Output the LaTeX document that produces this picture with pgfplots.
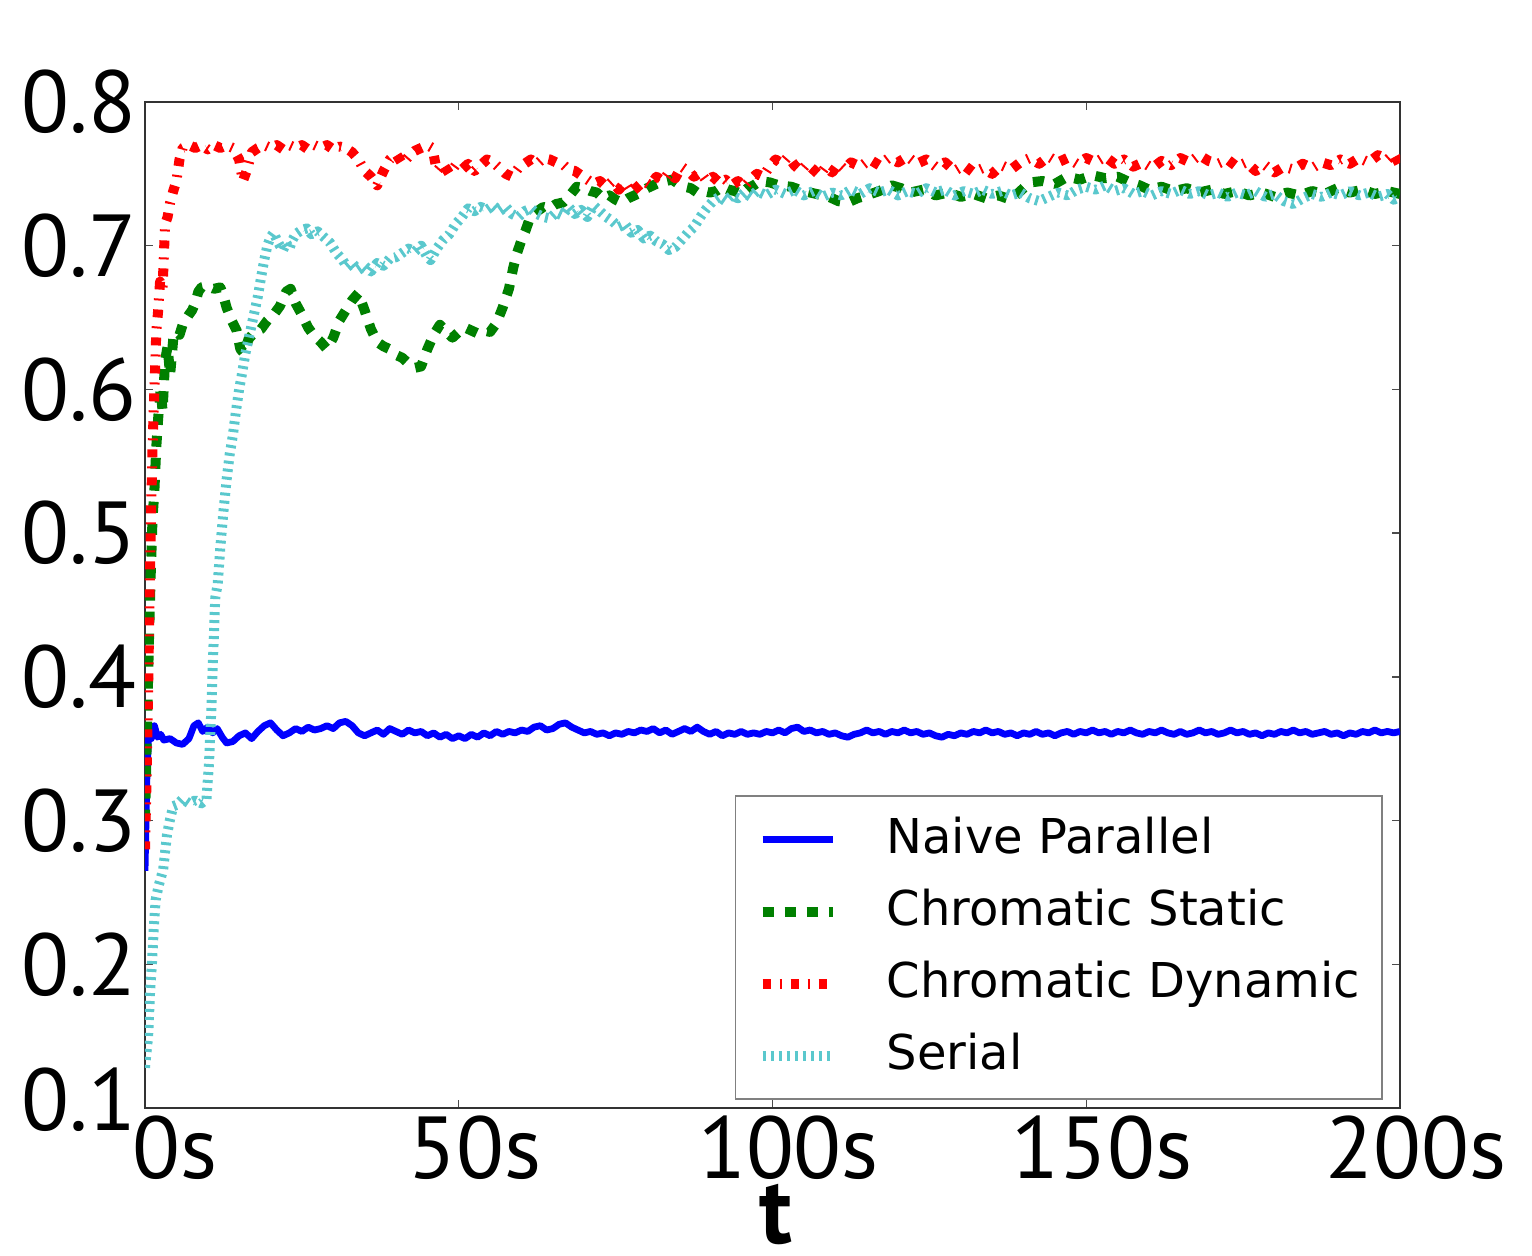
\documentclass[border=0pt]{standalone}
\usepackage{fontspec}
\setmainfont{PT Sans}
\newfontfamily\dejavu{DejaVu Sans}
\usepackage{pgfplots}
\pgfplotsset{compat=1.18}
\definecolor{mblue}{rgb}{0,0,1}
\definecolor{mgreen}{rgb}{0,0.5,0}
\definecolor{mred}{rgb}{1,0,0}
\definecolor{mcyan}{RGB}{90,200,205}
\begin{document}
\begin{tikzpicture}
\begin{axis}[
  at={(72.5pt,74pt)}, anchor=south west,
  scale only axis, width=627.5pt, height=503pt,
  xmin=0, xmax=200, ymin=0.1, ymax=0.8,
  xtick={0,50,100,150,200},
  xticklabels={\hspace*{14pt}0s,50s,100s,150s,200s},
  ytick={0.1,0.2,0.3,0.4,0.5,0.6,0.7,0.8},
  yticklabels={\raisebox{8.5pt}{0.1},0.2,0.3,0.4,0.5,0.6,0.7,0.8},
  tick label style={font=\fontsize{44}{44}\selectfont},
  xticklabel style={anchor=north, inner sep=0pt, yshift=-3.5pt, xshift=8pt},
  yticklabel style={anchor=east, inner sep=0pt, xshift=-4pt},
  tick align=inside, major tick length=4pt,
  tick style={line width=0.7pt, color=black!70},
  axis line style={line width=1pt, color=black!80},
  xlabel={\fontsize{47}{47}\selectfont\bfseries t},
  xlabel style={at={(axis description cs:0.5,0)}, anchor=north, inner sep=0pt, yshift=-38pt, xshift=1.5pt},
  legend cell align=left,
  legend style={at={(0.9865,0.008)}, anchor=south east, draw=black!50, line width=0.8pt,
    font=\dejavu\fontsize{24}{24}\selectfont, inner xsep=11pt, inner ysep=9.75pt,
    row sep=12pt, column sep=24.5pt,
    nodes={inner sep=0pt, text height=19pt, text depth=5pt}},
  legend image code/.code={\draw[#1] (0pt,0pt) -- (35pt,0pt);},
]
\addplot[mblue, line width=3.4pt, line join=round] coordinates {
(0,0.265)(0.3,0.33)(0.6,0.362)(1,0.357)(1.5,0.366)(2,0.358)(2.5,0.360)(3,0.356)(4,0.357)(5,0.354)(6,0.353)(7,0.357)(7.8,0.366)(8.5,0.368)(9.2,0.362)(10,0.365)(10.8,0.361)(11.5,0.364)(12.3,0.358)(13,0.354)(14,0.355)(15,0.359)(16,0.361)(17,0.357)(18,0.362)(19,0.366)(20,0.368)(21,0.363)(22,0.359)(23,0.361)(24,0.364)(25,0.362)(26,0.365)(27,0.363)(28,0.364)(29,0.366)(30,0.364)(31,0.368)(32,0.369)(33,0.366)(34,0.361)(35,0.359)(36,0.361)(37,0.363)(38,0.360)(39,0.364)(40,0.362)(41,0.360)(42,0.363)(43,0.361)(44,0.362)(45,0.359)(46,0.361)(47,0.358)(48,0.360)(49,0.357)(50,0.359)(51,0.357)(52,0.360)(53,0.358)(54,0.361)(55,0.359)(56,0.362)(57,0.360)(58,0.362)(59,0.361)(60,0.363)(61,0.362)(62,0.365)(63,0.366)(64,0.363)(65,0.364)(66,0.367)(67,0.368)(68,0.365)(69,0.363)(70,0.361)(71,0.362)(72,0.360)(73,0.361)(74,0.359)(75,0.361)(76,0.360)(77,0.362)(78,0.361)(79,0.363)(80,0.362)(81,0.364)(82,0.361)(83,0.363)(84,0.360)(85,0.362)(86,0.364)(87,0.362)(88,0.365)(89,0.362)(90,0.360)(91,0.362)(92,0.359)(93,0.361)(94,0.360)(95,0.362)(96,0.360)(97,0.361)(98,0.360)(99,0.362)(100,0.361)(101,0.363)(102,0.361)(103,0.364)(104,0.365)(105,0.362)(106,0.363)(107,0.361)(108,0.362)(109,0.360)(110,0.361)(111,0.359)(112,0.358)(113,0.360)(114,0.361)(115,0.363)(116,0.361)(117,0.362)(118,0.360)(119,0.362)(120,0.361)(121,0.363)(122,0.361)(123,0.362)(124,0.360)(125,0.361)(126,0.359)(127,0.358)(128,0.360)(129,0.359)(130,0.361)(131,0.360)(132,0.362)(133,0.361)(134,0.363)(135,0.361)(136,0.362)(137,0.360)(138,0.361)(139,0.359)(140,0.361)(141,0.360)(142,0.362)(143,0.360)(144,0.361)(145,0.359)(146,0.361)(147,0.362)(148,0.360)(149,0.362)(150,0.361)(151,0.363)(152,0.361)(153,0.362)(154,0.360)(155,0.362)(156,0.361)(157,0.363)(158,0.361)(159,0.360)(160,0.362)(161,0.361)(162,0.363)(163,0.361)(164,0.360)(165,0.362)(166,0.360)(167,0.361)(168,0.363)(169,0.361)(170,0.362)(171,0.360)(172,0.361)(173,0.363)(174,0.361)(175,0.362)(176,0.360)(177,0.361)(178,0.359)(179,0.361)(180,0.360)(181,0.362)(182,0.361)(183,0.363)(184,0.361)(185,0.362)(186,0.360)(187,0.361)(188,0.362)(189,0.360)(190,0.361)(191,0.359)(192,0.361)(193,0.360)(194,0.362)(195,0.361)(196,0.363)(197,0.361)(198,0.362)(199,0.361)(200,0.362)
};
\addlegendentry{Naive Parallel}
\addplot[mgreen, line width=5pt, line join=round, dash pattern=on 5.5pt off 5.5pt] coordinates {
(0,0.30)(0.3,0.36)(0.6,0.42)(0.9,0.47)(1.2,0.51)(1.5,0.53)(1.8,0.56)(2.1,0.58)(2.5,0.60)(2.8,0.585)(3.2,0.62)(3.6,0.63)(4.0,0.61)(4.5,0.635)(5.0,0.64)(5.5,0.638)(6,0.645)(7,0.652)(7.5,0.655)(8,0.66)(8.5,0.668)(9,0.671)(10,0.672)(11,0.670)(12,0.671)(12.5,0.665)(13,0.657)(13.8,0.648)(14.6,0.641)(15.2,0.628)(15.8,0.625)(16.5,0.635)(17.5,0.640)(18.5,0.642)(19.5,0.648)(20.5,0.652)(21.5,0.658)(22.5,0.668)(23.2,0.670)(24,0.660)(25,0.652)(26,0.643)(27,0.637)(28,0.633)(29,0.628)(30,0.636)(31,0.648)(32,0.655)(33,0.662)(34,0.667)(35,0.655)(36,0.642)(37,0.633)(38,0.630)(39,0.628)(40,0.624)(41,0.622)(42,0.618)(43,0.615)(44,0.616)(45,0.628)(46,0.638)(47,0.645)(48,0.640)(49,0.636)(50,0.640)(51,0.643)(52,0.641)(53,0.639)(54,0.641)(55,0.640)(56,0.646)(57,0.657)(58,0.670)(58.7,0.685)(59.3,0.695)(60,0.704)(60.6,0.710)(61.4,0.72)(62.5,0.724)(63.5,0.727)(64.5,0.726)(65.5,0.729)(66.6,0.730)(67.7,0.735)(68.8,0.741)(70,0.740)(71,0.738)(72,0.737)(73,0.733)(74,0.735)(75,0.732)(76,0.730)(77,0.733)(78,0.735)(79,0.737)(80,0.740)(81,0.742)(82,0.744)(83,0.745)(84,0.746)(85,0.743)(86,0.741)(87,0.740)(88,0.737)(89,0.738)(90,0.737)(91,0.738)(92,0.741)(93,0.739)(94,0.738)(95,0.736)(96,0.740)(97,0.742)(98,0.745)(99.6,0.744)(101,0.742)(103,0.741)(105,0.738)(107,0.736)(109,0.734)(110.5,0.731)(112,0.730)(113.5,0.733)(115,0.735)(117,0.738)(119,0.742)(120.5,0.740)(122,0.737)(124,0.739)(126,0.735)(128,0.737)(130,0.734)(132,0.736)(134,0.733)(136,0.735)(138,0.732)(139.5,0.738)(141,0.744)(143,0.745)(145,0.743)(147,0.748)(149,0.746)(151,0.749)(153,0.747)(155,0.748)(157,0.744)(158.5,0.742)(160,0.739)(162,0.741)(164,0.738)(166,0.740)(168,0.737)(170,0.739)(172,0.736)(174,0.738)(176,0.735)(178,0.737)(180,0.734)(182,0.737)(184,0.735)(186,0.738)(188,0.736)(190,0.740)(192,0.737)(194,0.739)(196,0.736)(198,0.738)(200,0.736)
};
\addlegendentry{Chromatic Static}
\addplot[mred, line width=5pt, line join=round, dash pattern=on 4pt off 4.5pt on 1pt off 4.5pt] coordinates {
(0,0.28)(0.3,0.34)(0.6,0.42)(0.9,0.50)(1.2,0.56)(1.5,0.60)(1.8,0.64)(2.1,0.655)(2.4,0.675)(2.8,0.67)(3.2,0.715)(3.6,0.72)(4,0.73)(4.5,0.738)(5,0.745)(5.5,0.76)(6,0.768)(7,0.770)(8,0.768)(9,0.770)(10,0.767)(11,0.770)(12,0.768)(13,0.770)(14,0.768)(15,0.760)(15.6,0.745)(16.2,0.752)(17,0.765)(18,0.768)(19,0.770)(20,0.768)(21,0.770)(22,0.767)(23,0.770)(24,0.768)(25,0.770)(26,0.767)(27,0.770)(28,0.768)(29,0.770)(30,0.767)(31,0.769)(32,0.768)(33,0.765)(34,0.760)(35,0.752)(36,0.748)(37,0.742)(38,0.752)(39,0.760)(40,0.764)(41,0.757)(42,0.762)(43,0.766)(44,0.768)(45,0.770)(45.8,0.768)(46.5,0.752)(47.5,0.757)(48.5,0.750)(49.5,0.756)(50.5,0.753)(51.5,0.757)(52.5,0.752)(53.5,0.756)(54.5,0.760)(55.5,0.758)(56.5,0.754)(57.5,0.750)(58.5,0.748)(59.5,0.754)(60.5,0.757)(61.5,0.760)(62.5,0.757)(63.5,0.761)(64.5,0.760)(65.5,0.758)(66.5,0.757)(67.5,0.753)(68.5,0.752)(69.5,0.749)(70.5,0.746)(71.5,0.743)(72.5,0.745)(73.5,0.741)(74.5,0.745)(75.5,0.739)(76.5,0.744)(77.5,0.737)(78.5,0.741)(79.5,0.745)(80.5,0.742)(81.5,0.748)(82.5,0.745)(83.5,0.751)(84.5,0.747)(85.5,0.755)(86.5,0.752)(87.5,0.748)(88.5,0.751)(89.5,0.745)(90.5,0.748)(91.5,0.744)(92.5,0.746)(93.5,0.742)(94.5,0.745)(95.5,0.741)(96.5,0.746)(97.5,0.750)(98.5,0.748)(99.5,0.755)(100.5,0.760)(101.5,0.757)(102.5,0.762)(103.5,0.756)(104.5,0.752)(105.5,0.757)(106.5,0.753)(107.5,0.749)(108.5,0.755)(109.5,0.751)(110.5,0.757)(111.5,0.753)(112.5,0.758)(114,0.755)(115.5,0.760)(117,0.756)(118.5,0.761)(120,0.758)(121.5,0.762)(123,0.757)(124.5,0.760)(126,0.755)(127.5,0.758)(129,0.752)(130.5,0.756)(132,0.751)(133.5,0.754)(135,0.750)(136.5,0.756)(138,0.753)(139.5,0.758)(141,0.761)(142.5,0.757)(144,0.762)(145.5,0.758)(147,0.761)(148.5,0.757)(150,0.761)(151.5,0.758)(153,0.762)(154.5,0.757)(156,0.760)(157.5,0.755)(159,0.758)(160.5,0.754)(162,0.759)(163.5,0.756)(165,0.761)(166.5,0.758)(168,0.763)(169.5,0.759)(171,0.757)(172.5,0.760)(174,0.755)(175.5,0.758)(177,0.752)(178.5,0.756)(180,0.751)(181.5,0.755)(183,0.753)(184.5,0.757)(186,0.754)(187.5,0.758)(189,0.756)(190.5,0.760)(192,0.757)(193.5,0.761)(195,0.758)(196.5,0.763)(198,0.760)(199,0.764)(200,0.756)
};
\addlegendentry{Chromatic Dynamic}
\addplot[mcyan, line width=5pt, line join=round, dash pattern=on 1.5pt off 2.5pt] coordinates {
(0,0.128)(0.5,0.15)(0.8,0.18)(1.1,0.20)(1.4,0.225)(1.7,0.245)(2.2,0.255)(2.9,0.266)(3.5,0.29)(4,0.301)(4.5,0.31)(5.1,0.311)(6,0.315)(7,0.312)(8,0.314)(9,0.312)(9.8,0.315)(10.2,0.34)(10.6,0.38)(10.9,0.42)(11.2,0.455)(11.6,0.465)(12,0.49)(12.5,0.515)(13,0.537)(13.5,0.555)(14,0.568)(14.5,0.585)(15,0.600)(15.5,0.612)(16,0.625)(16.5,0.635)(17,0.645)(17.5,0.655)(18,0.665)(18.5,0.678)(19,0.69)(19.5,0.700)(20,0.706)(20.5,0.709)(21,0.704)(21.5,0.700)(22,0.697)(22.5,0.702)(23,0.698)(23.5,0.704)(24,0.708)(25,0.711)(25.8,0.712)(26.5,0.708)(27.5,0.710)(28.5,0.706)(29.5,0.702)(30.5,0.695)(31.5,0.690)(32.2,0.685)(33,0.688)(34,0.683)(35,0.686)(36,0.682)(37,0.688)(38,0.686)(39,0.691)(40,0.692)(41,0.695)(42,0.698)(43,0.696)(44,0.700)(45,0.692)(45.5,0.690)(46.5,0.698)(47.5,0.704)(48.5,0.708)(49.5,0.715)(50.5,0.720)(51.5,0.726)(52.5,0.724)(53.5,0.727)(54.5,0.725)(55.5,0.728)(56.5,0.724)(57.5,0.727)(58.5,0.722)(59.5,0.720)(60.5,0.724)(61.5,0.726)(62.5,0.722)(63.5,0.720)(64.5,0.719)(65.5,0.723)(66.5,0.721)(67.5,0.727)(68.5,0.722)(69.5,0.725)(70.5,0.720)(71.5,0.728)(72.5,0.724)(73.5,0.720)(74.5,0.717)(75.5,0.713)(76.5,0.715)(77.5,0.709)(78.5,0.711)(79.5,0.705)(80.5,0.707)(81.5,0.703)(82.5,0.701)(83.5,0.697)(84.5,0.699)(85.5,0.704)(86.5,0.709)(87.5,0.713)(88.5,0.720)(89.5,0.726)(90.5,0.731)(91.5,0.734)(92.5,0.731)(93.5,0.735)(94.5,0.733)(95.5,0.737)(96.5,0.734)(97.5,0.738)(99,0.735)(100.5,0.739)(102,0.736)(103.5,0.739)(105,0.735)(106.5,0.738)(108,0.734)(109.5,0.737)(111,0.735)(112.5,0.739)(114,0.736)(115.5,0.740)(117,0.737)(118.5,0.739)(120,0.735)(121.5,0.738)(123,0.736)(124.5,0.740)(126,0.737)(127.5,0.739)(129,0.735)(130.5,0.738)(132,0.736)(133.5,0.739)(135,0.736)(136.5,0.738)(138,0.735)(139.5,0.737)(141,0.733)(142.5,0.731)(144,0.734)(145.5,0.737)(147,0.735)(148.5,0.739)(150,0.741)(151.5,0.739)(153,0.742)(154.5,0.738)(156,0.740)(157.5,0.736)(159,0.738)(160.5,0.735)(162,0.738)(163.5,0.736)(165,0.739)(166.5,0.736)(168,0.738)(169.5,0.735)(171,0.737)(172.5,0.734)(174,0.737)(175.5,0.735)(177,0.738)(178.5,0.734)(180,0.736)(181.5,0.731)(183,0.729)(184.5,0.733)(186,0.736)(187.5,0.734)(189,0.737)(190.5,0.735)(192,0.738)(193.5,0.735)(195,0.737)(196.5,0.734)(198,0.736)(199,0.732)(200,0.734)
};
\addlegendentry{Serial}
\end{axis}
\pgfresetboundingbox
\path[use as bounding box] (0,0) rectangle (766pt,628pt);
\end{tikzpicture}
\end{document}
